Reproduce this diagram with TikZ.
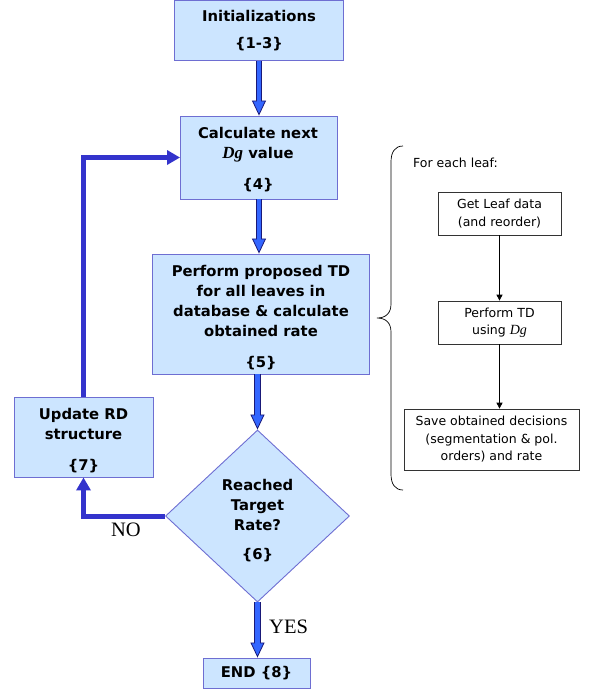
\documentclass[tikz,border=0pt]{standalone}
\usepackage{fontspec}
\setmainfont{DejaVu Sans}
\newfontfamily\tms{Liberation Serif}
\usetikzlibrary{shapes.geometric,arrows.meta,calc}
\definecolor{boxfill}{RGB}{204,229,255}
\definecolor{boxdraw}{RGB}{110,110,210}
\definecolor{arrfill}{RGB}{51,102,255}
\definecolor{arrdraw}{RGB}{25,25,120}
\definecolor{fbcol}{RGB}{51,51,204}
\newcommand{\Dg}{{\tms\itshape\fontsize{17}{20}\selectfont Dg}}
\newcommand{\Dgs}{{\tms\itshape\fontsize{14}{17}\selectfont Dg}}
\tikzset{
  bluebox/.style={draw=boxdraw, fill=boxfill, line width=0.9pt, align=center, inner sep=0pt,
    font=\fontsize{14.8}{20}\selectfont\bfseries},
  decision/.style={diamond, draw=boxdraw, fill=boxfill, line width=0.9pt, inner sep=0pt},
  bigtext/.style={align=center, inner sep=0pt, font=\fontsize{14.8}{20}\selectfont\bfseries},
  whitebox/.style={draw=black!80, line width=0.7pt, align=center, inner sep=0pt,
    font=\fontsize{12.5}{17.5}\selectfont},
  outerarr/.style={line width=6.5pt, draw=arrdraw,
    -{Triangle[length=15pt,width=14pt,fill=arrfill,line width=0.8pt]}},
  innerarr/.style={line width=4.5pt, draw=arrfill, shorten >=14pt},
  fbarr/.style={line width=5pt, draw=fbcol, -{Triangle[length=13pt,width=14pt]}},
  thinarr/.style={line width=0.7pt, draw=black, -{Triangle[length=6pt,width=6pt]}},
  lbl/.style={font=\tms\fontsize{20.5}{22}\selectfont, inner sep=0pt},
}
\begin{document}
\begin{tikzpicture}[x=1pt,y=-1pt]
\useasboundingbox (0,0) rectangle (603,694);
% main boxes
\node[bluebox, minimum width=169pt, minimum height=60pt] (init) at (259,30.5) {Initializations\\[7pt]\{1-3\}};
\node[bluebox, minimum width=157pt, minimum height=83pt] (calc) at (259,157.5) {};
\node[bigtext] (calct) at (258,159.5) {Calculate next\\\Dg{} value\\[11pt]\{4\}};
\node[bluebox, minimum width=217pt, minimum height=120pt] (perf) at (260.5,314) {};
\node[bigtext] (perft) at (261,317.5) {Perform proposed TD\\for all leaves in\\database \& calculate\\obtained rate\\[11pt]\{5\}};
\node[decision, minimum width=184pt, minimum height=172pt] (dec) at (257.5,516) {};
\node[bigtext] (dect) at (257.5,521) {Reached\\Target\\Rate?\\[9pt]\{6\}};
\node[bluebox, minimum width=139pt, minimum height=80pt] (upd) at (83.5,437) {};
\node[bigtext] (updt) at (83.5,441) {Update RD\\structure\\[11pt]\{7\}};
\node[bluebox, minimum width=107pt, minimum height=30pt] (end) at (256.5,673) {END \{8\}};
% block arrows
\draw[outerarr] (init.south -| calc.north) -- (calc.north);
\draw[innerarr] (init.south -| calc.north) -- (calc.north);
\draw[outerarr] (calc.south) -- (calc.south |- perf.north);
\draw[innerarr] (calc.south) -- (calc.south |- perf.north);
\draw[outerarr] (perf.south -| dec.north) -- (dec.north);
\draw[innerarr] (perf.south -| dec.north) -- (dec.north);
\draw[outerarr] (dec.south) -- (dec.south |- end.north);
\draw[innerarr] (dec.south) -- (dec.south |- end.north);
% loop arrows
\draw[fbarr] (dec.west) -| (upd.south);
\draw[fbarr] (upd.north) |- (calc.west);
% labels
\node[lbl] (no) at (126,530) {NO};
\node[lbl, anchor=west] (yes) at (269,627) {YES};
% right side
\node[font=\fontsize{12.5}{15}\selectfont, anchor=west, inner sep=0pt] (each) at (413,163) {For each leaf:};
\node[whitebox, minimum width=123pt, minimum height=43pt] (ga) at (499.5,213.5) {Get Leaf data\\(and reorder)};
\node[whitebox, minimum width=123pt, minimum height=43pt] (gb) at (499.5,322.5) {Perform TD\\using \Dgs};
\node[whitebox, minimum width=175pt, minimum height=61pt] (gc) at (491.5,439.5) {Save obtained decisions\\(segmentation \& pol.\\orders) and rate};
\draw[thinarr] (ga.south) -- (gb.north);
\draw[thinarr] (gb.south) -- (gb.south |- gc.north);
% brace
\draw[line width=0.7pt] (403,146) .. controls (395,146) and (391,152) .. (391,162) -- (391,304)
  .. controls (391,313) and (386,318) .. (377,318)
  .. controls (386,318) and (391,323) .. (391,332) -- (391,474)
  .. controls (391,484) and (395,490) .. (403,490);
\end{tikzpicture}
\end{document}
